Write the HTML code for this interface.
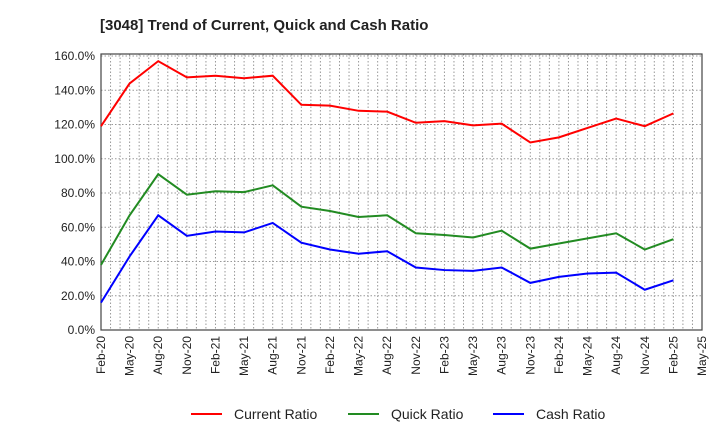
<!DOCTYPE html>
<html><head><meta charset="utf-8"><style>
body{margin:0;background:#fff;font-family:"Liberation Sans",sans-serif;}
</style></head><body>
<svg id="c" width="720" height="440" xmlns="http://www.w3.org/2000/svg">
<text x="100" y="30" font-size="15" font-weight="bold" fill="#222">[3048]  Trend of Current, Quick and Cash Ratio</text>
<g id="grid"></g><g id="axes"></g><g id="series"></g>
<g>
<line x1="191" y1="414" x2="222" y2="414" stroke="#f00" stroke-width="2"/><text x="234" y="419" font-size="14" fill="#222">Current Ratio</text>
<line x1="348" y1="414" x2="379" y2="414" stroke="#228b22" stroke-width="2"/><text x="391" y="419" font-size="14" fill="#222">Quick Ratio</text>
<line x1="493" y1="414" x2="524" y2="414" stroke="#00f" stroke-width="2"/><text x="536" y="419" font-size="14" fill="#222">Cash Ratio</text>
</g>
</svg>
<script>
const xLabels=["Feb-20","May-20","Aug-20","Nov-20","Feb-21","May-21","Aug-21","Nov-21","Feb-22","May-22","Aug-22","Nov-22","Feb-23","May-23","Aug-23","Nov-23","Feb-24","May-24","Aug-24","Nov-24","Feb-25","May-25"];
const yTicks=[0,20,40,60,80,100,120,140,160];
const currentRatio=[119,144,157,147.5,148.5,147,148.5,131.5,131,128,127.5,121,122,119.5,120.5,109.5,112.5,118,123.5,119,126.5];
const quickRatio=[38,67,91,79,81,80.5,84.5,72,69.5,66,67,56.5,55.5,54,58,47.5,50.5,53.5,56.5,47,53];
const cashRatio=[16,43,67,55,57.5,57,62.5,51,47,44.5,46,36.5,35,34.5,36.5,27.5,31,33,33.5,23.5,29];
const L=101,R=702,T=54,B=330;
const xs=i=>L+i*(R-L)/(xLabels.length-1);
const ys=v=>B-v*(B-56)/160;
const NS="http://www.w3.org/2000/svg";
function mk(t,a,p){const e=document.createElementNS(NS,t);for(const k in a)e.setAttribute(k,a[k]);p.appendChild(e);return e;}
const grid=document.getElementById('grid'),axes=document.getElementById('axes'),ser=document.getElementById('series');
for(let m=1;m<(xLabels.length-1)*3;m++){const x=L+m*(R-L)/((xLabels.length-1)*3);
const g=mk('line',{x1:x,x2:x,y1:T,y2:B,stroke:'#999','stroke-dasharray':'1.5,2','stroke-width':1},grid);

}
yTicks.forEach(v=>{const y=ys(v);
const g=mk('line',{x1:L,x2:R,y1:y,y2:y,stroke:'#999','stroke-dasharray':'1.5,2','stroke-width':1},grid);


const t=mk('text',{x:L-6,y:y+4,'text-anchor':'end','font-size':12,fill:'#222'},axes);t.textContent=v.toFixed(1)+'%';

});
xLabels.forEach((l,i)=>{const x=xs(i);
const t=mk('text',{x:x+4,y:B+6,'text-anchor':'end','font-size':12,fill:'#222',transform:`rotate(-90 ${x+4} ${B+6})`},axes);t.textContent=l;

});
const fr=mk('rect',{x:L,y:T,width:R-L,height:B-T,fill:'none',stroke:'#444','stroke-width':1.2},axes);


[[currentRatio,'#f00','current-ratio-line'],[quickRatio,'#228b22','quick-ratio-line'],[cashRatio,'#00f','cash-ratio-line']].forEach(([d,c,n])=>{
const p=mk('polyline',{points:d.map((v,i)=>xs(i)+','+ys(v)).join(' '),fill:'none',stroke:c,'stroke-width':2},ser);

});
</script>
</body></html>
